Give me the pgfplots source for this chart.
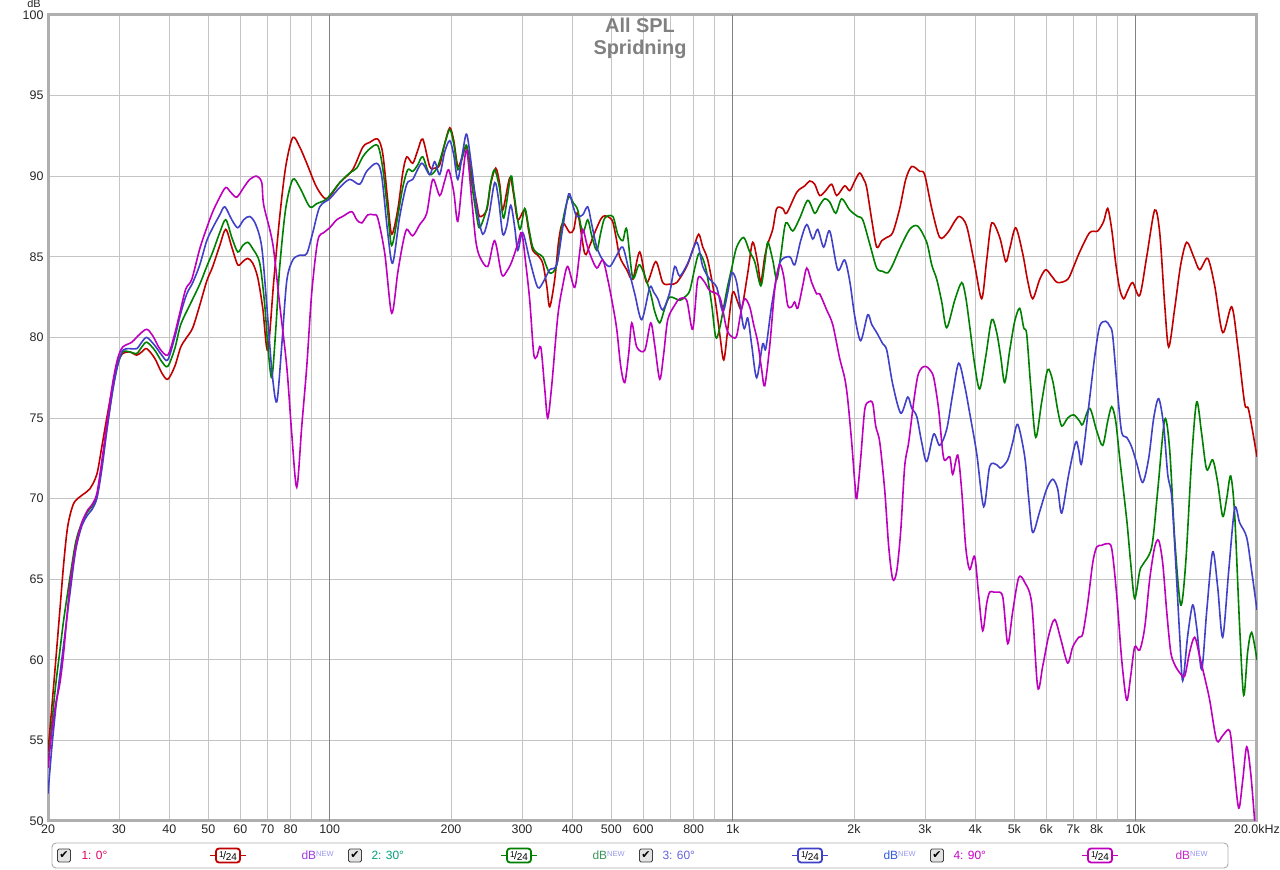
\documentclass[border=0pt]{standalone}
\usepackage{pgfplots}
\pgfplotsset{compat=1.18}
\usepackage{pgfplotstable}
\usepackage{fontspec}
\setmainfont{Liberation Sans}
\newfontfamily\dejavu{DejaVu Sans}
\definecolor{cRed}{RGB}{192,0,0}
\definecolor{cGreen}{RGB}{0,128,0}
\definecolor{cBlue}{RGB}{64,64,200}
\definecolor{cMag}{RGB}{190,0,190}
\definecolor{gridc}{RGB}{196,196,196}
\definecolor{decc}{RGB}{130,130,130}
\definecolor{titlec}{RGB}{128,128,128}
\definecolor{frame}{RGB}{175,175,175}
\definecolor{lRed}{RGB}{220,0,100}
\definecolor{lGreen}{RGB}{0,160,120}
\definecolor{lBlue}{RGB}{100,100,220}
\definecolor{lMag}{RGB}{200,0,200}
\definecolor{nNew}{RGB}{150,150,240}
\definecolor{dB1}{RGB}{160,60,220}
\definecolor{dB2}{RGB}{60,150,90}
\definecolor{dB3}{RGB}{50,90,220}
\definecolor{dB4}{RGB}{200,40,200}

\pgfplotstableread{
f db
20 54.3
20.43 57.0
20.91 60.0
21.39 63.0
21.88 66.0
22.39 68.3
23.16 69.7
24.26 70.2
25.39 70.6
26.43 71.5
27.19 73.2
27.98 75.0
28.95 77.0
29.79 78.4
30.65 79.0
31.90 79.1
33.20 78.9
34.17 79.1
35.16 79.3
36.81 78.7
38.31 77.8
39.64 77.4
41.26 78.2
42.70 79.4
44.19 80.0
45.73 80.6
47.60 82.0
49.54 83.5
51.27 84.4
53.36 85.7
55.22 86.7
57.15 85.6
59.14 84.5
60.86 84.7
62.62 84.9
64.44 84.6
66.30 83.7
68.22 81.8
70.20 79.2
72.65 83.5
75.18 87.5
77.80 90.6
80.98 92.4
84.28 91.8
87.72 90.8
92.88 89.3
98.35 88.6
105.9 89.6
114.0 90.4
120.8 91.8
125.7 92.1
131.6 92.3
135.4 91.4
139.3 88.5
142.5 86.4
147.5 87.9
151.8 90.2
155.3 91.2
160.7 90.8
165.4 91.6
170.2 92.3
177.1 90.6
182.2 90.5
187.5 90.7
192.9 92.0
198.6 93.0
203.2 92.2
207.9 90.6
212.6 91.1
218.8 91.8
225.2 90.0
231.7 88.3
235.7 87.5
245.3 87.9
250.9 89.5
258.2 90.5
264.2 89.5
268.8 87.9
279.8 89.9
286.3 88.8
292.9 87.3
304.8 87.9
311.8 86.6
319.0 85.4
328.3 85.1
337.8 84.6
345.6 83.2
351.6 81.9
361.8 83.6
370.1 86.0
378.7 87.1
394.2 86.5
403.3 86.7
412.6 87.7
429.4 85.2
441.9 85.7
454.7 86.5
476.0 87.5
501.1 87.3
512.7 86.3
524.5 85.0
545.9 84.2
565.0 83.6
588.0 85.3
612.0 83.4
644.3 84.7
670.6 83.4
698.0 83.3
726.5 83.4
769.2 84.4
800.6 85.6
823.7 86.4
842.8 85.6
867.3 84.8
902.6 82.5
928.8 80.2
950.3 78.6
972.3 80.5
1000 82.8
1029 82.2
1053 81.8
1090 84.0
1121 85.9
1154 84.6
1174 83.4
1201 85.0
1222 85.8
1257 86.7
1286 88.0
1331 88.0
1361 87.7
1442 89.0
1510 89.4
1553 89.7
1598 89.5
1644 88.8
1701 89.1
1761 89.5
1812 88.8
1896 89.4
1952 89.1
2009 89.7
2066 90.2
2114 89.8
2150 89.3
2213 87.3
2277 85.6
2344 86.0
2412 86.2
2495 86.5
2597 88.0
2688 89.8
2782 90.6
2911 90.3
2995 90.1
3118 88.0
3264 86.2
3417 86.5
3556 87.2
3659 87.5
3808 86.9
3986 84.5
4149 82.4
4269 84.8
4393 87.1
4599 86.2
4760 84.7
4869 85.5
5039 86.8
5244 85.2
5396 83.5
5552 82.4
5779 83.6
5981 84.2
6189 83.8
6405 83.4
6782 83.6
7018 84.4
7263 85.3
7690 86.5
8050 86.6
8330 87.2
8523 88.0
8720 86.7
8922 84.6
9128 83.0
9339 82.4
9555 82.9
9831 83.4
10233 82.6
10650 85.0
11149 87.9
11472 86.5
11805 82.0
12077 79.4
12498 81.8
12933 84.5
13385 85.9
13931 85.0
14417 84.2
15092 84.9
15707 83.2
16442 80.3
17309 81.9
17913 79.5
18643 75.9
19073 75.5
20000 72.6
}\tRed

\pgfplotstableread{
f db
20 53.5
20.43 56.0
20.91 58.5
21.39 60.5
21.88 62.5
22.64 65.0
23.43 67.3
24.26 68.5
25.10 69.2
25.68 69.5
26.43 70.1
27.19 72.0
27.98 74.3
28.95 76.8
29.79 78.3
30.65 79.1
31.90 79.1
33.20 79.0
34.17 79.4
35.16 79.7
36.81 79.2
38.31 78.5
39.64 78.2
41.26 79.3
42.70 80.8
44.95 82.0
47.60 83.3
49.54 84.4
51.27 85.3
53.36 86.5
55.22 87.3
57.15 86.2
59.14 85.3
60.86 85.7
62.62 85.9
64.44 85.5
67.06 84.6
69.0 82.0
70.20 79.5
71.83 77.5
73.49 80.5
75.18 84.4
77.80 88.0
80.98 89.8
84.28 89.3
89.24 88.1
92.88 88.3
98.35 88.6
105.9 89.6
112.1 90.2
116.7 90.5
120.8 91.2
125.7 91.7
131.6 91.9
135.4 90.5
139.3 87.8
142.5 85.7
147.5 87.5
151.8 89.3
156.2 90.4
160.7 90.3
165.4 90.7
170.2 91.2
177.1 90.1
185.4 90.6
192.9 92.0
198.6 92.9
203.2 92.0
207.9 90.4
212.6 91.0
218.8 91.9
225.2 89.5
231.7 87.5
235.7 86.8
245.3 88.0
250.9 89.6
256.7 90.4
264.2 89.2
270.3 87.4
281.4 90.0
286.3 89.0
296.2 86.7
304.8 88.0
311.8 86.8
319.0 85.6
328.3 85.2
337.8 85.0
351.6 84.0
365.9 84.5
378.7 87.2
391.9 88.7
403.3 88.3
412.6 87.9
424.5 86.5
436.8 87.3
447.0 86.3
459.9 85.4
470.6 86.5
481.5 87.4
504.0 87.5
518.6 86.4
533.6 86.0
545.9 86.7
565.0 83.7
588.0 84.5
622.6 82.9
640.7 81.6
659.2 80.9
678.3 81.8
698.0 82.5
739.0 82.3
760.4 82.5
782.5 82.9
805.2 84.3
823.7 85.2
842.8 84.9
862.3 84.0
887.3 82.0
907.8 80.0
928.8 80.6
966.7 82.9
994.7 84.3
1023 85.6
1065 86.2
1102 85.3
1134 84.7
1174 83.2
1201 84.6
1222 85.9
1257 84.8
1286 83.6
1315 85.0
1354 87.1
1409 86.6
1467 87.4
1536 88.5
1598 87.7
1644 88.2
1692 88.6
1741 88.4
1802 87.7
1864 88.6
1952 87.9
2043 87.5
2102 87.3
2188 85.8
2277 84.3
2357 84.1
2425 84.0
2495 84.5
2597 85.5
2750 86.7
2879 86.9
3030 85.9
3118 84.5
3209 83.6
3302 82.2
3397 80.6
3556 82.3
3701 83.4
3787 82.5
3874 80.7
3986 78.3
4102 76.8
4245 78.8
4393 81.1
4520 80.3
4625 78.8
4732 77.2
4869 79.2
5010 81.0
5155 81.8
5274 80.6
5365 80.2
5489 77.0
5649 73.8
5845 76.0
6049 78.0
6225 77.3
6405 75.5
6554 74.5
6782 75.0
7018 75.2
7263 74.8
7389 74.6
7690 75.6
8004 74.2
8283 73.3
8523 74.8
8720 75.7
8922 74.8
9128 72.5
9500 68.7
9719 66.0
9944 63.8
10233 65.5
10410 65.9
10960 67.0
11342 70.5
11805 74.9
12146 73.0
12498 67.5
12933 63.4
13309 66.0
13773 72.5
14172 76.0
14583 74.0
15005 71.8
15528 72.4
15978 71.0
16442 68.9
16821 70.0
17210 71.4
17608 69.0
18118 62.0
18537 57.8
18966 60.5
19404 61.7
20000 60.0
}\tGreen

\pgfplotstableread{
f db
20 51.7
20.43 54.5
20.91 57.0
21.39 59.0
21.88 61.0
22.64 64.0
23.43 66.8
24.26 68.3
25.10 69.0
25.68 69.3
26.43 70.0
27.19 71.8
27.98 74.2
28.95 76.7
29.79 78.3
30.65 79.2
31.90 79.3
33.20 79.3
34.17 79.7
35.16 80.0
36.81 79.5
38.31 78.9
39.64 78.6
41.26 80.0
42.70 81.5
44.19 82.7
45.73 83.4
47.60 84.5
49.54 86.0
51.27 86.8
53.36 87.6
54.91 88.1
57.15 87.3
59.14 86.8
61.20 87.3
63.34 87.5
65.55 87.0
67.83 85.6
69.80 82.0
71.83 78.0
73.91 76.0
76.04 79.5
78.25 83.5
80.98 84.8
84.28 85.1
87.72 85.2
90.78 86.5
94.49 88.1
100 88.6
105.9 89.3
112.1 89.8
118.7 89.5
123.5 90.3
130.8 90.8
134.6 90.0
139.3 86.5
143.3 84.6
149.2 87.5
155.3 89.5
160.7 89.8
169.2 90.8
177.1 90.1
182.2 90.9
187.5 90.1
192.9 91.5
198.6 92.2
203.2 91.3
207.9 89.8
213.8 91.5
218.8 92.6
225.2 90.5
231.7 88.0
239.8 86.4
248.1 87.5
256.7 89.6
262.6 88.5
268.8 86.4
275.0 86.9
281.4 88.2
287.9 86.8
292.9 85.4
301.3 86.5
313.6 84.8
328.3 83.1
339.8 83.5
351.6 84.2
365.9 84.5
378.7 86.8
391.9 88.9
401.0 88.2
410.3 87.5
424.5 87.6
436.8 88.1
447.0 87.0
459.9 85.6
476.0 84.8
495.4 84.4
515.6 85.1
533.6 85.6
552.1 84.2
571.5 82.7
594.8 81.1
622.6 83.1
637.0 82.8
651.7 82.4
670.6 81.7
698.0 82.8
718.2 84.4
739.0 83.8
773.6 84.6
814.4 85.9
842.8 84.4
877.2 83.6
913.0 83.1
944.9 81.6
972.3 82.8
994.7 84.0
1023 83.4
1065 80.6
1090 81.2
1115 79.5
1147 77.5
1187 79.6
1208 79.3
1250 82.0
1308 84.6
1385 85.0
1425 84.5
1475 86.0
1527 87.0
1580 86.1
1626 86.7
1682 85.6
1741 86.6
1822 84.2
1896 84.8
1952 83.5
2009 81.3
2078 79.8
2163 81.4
2213 80.8
2277 80.3
2357 79.6
2412 79.2
2495 77.1
2612 75.3
2719 76.3
2782 75.6
2862 75.1
2944 73.5
3030 72.3
3154 74.0
3264 73.3
3397 74.3
3516 76.5
3638 78.4
3765 77.0
3874 75.3
4032 72.8
4197 69.5
4343 72.0
4520 72.1
4625 71.9
4814 72.4
4953 73.5
5097 74.6
5305 72.6
5427 70.0
5552 67.9
5779 69.2
6015 70.6
6225 71.2
6405 70.6
6554 69.1
6820 71.5
7099 73.5
7222 73.0
7347 72.2
7646 75.7
7913 78.8
8142 80.7
8426 81.0
8621 80.7
8770 80.1
9024 76.5
9233 74.1
9500 73.8
9775 73.2
10058 72.2
10410 71.0
10772 72.5
11085 75.0
11406 76.2
11737 74.5
12009 71.5
12286 70.1
12570 66.0
12860 61.5
13082 58.7
13462 61.5
13851 63.4
14172 62.0
14583 59.4
15005 63.0
15528 66.7
15978 64.5
16442 61.4
17014 65.5
17608 69.4
18118 68.5
18857 67.6
19404 65.5
20000 63.1
}\tBlue

\pgfplotstableread{
f db
20 53.3
20.43 55.5
20.91 57.3
21.39 58.5
21.88 60.5
22.64 64.5
23.43 67.0
24.26 68.5
25.10 69.3
25.68 69.6
26.43 70.3
27.19 72.3
27.98 74.6
28.95 77.2
29.79 78.7
30.65 79.4
32.27 79.7
33.78 80.2
35.16 80.5
36.39 80.1
37.87 79.3
39.64 78.9
41.03 80.0
42.46 81.5
43.94 83.0
45.47 83.6
47.60 85.5
49.54 86.8
51.27 87.8
53.36 88.7
55.22 89.3
56.82 89.0
58.80 88.7
61.20 89.3
63.34 89.8
65.92 90.0
67.83 89.6
68.61 88.2
72.24 85.8
75.18 82.0
78.25 78.2
80.52 74.0
82.85 70.7
85.25 74.5
87.72 78.2
90.27 82.8
93.42 86.0
96.67 86.5
100 86.8
104.1 87.3
107.7 87.5
113.4 87.8
116.7 87.3
120.1 87.1
124.3 87.6
128.6 87.6
131.6 87.4
137.0 85.2
142.5 81.5
147.5 84.0
151.8 85.8
155.3 86.7
160.7 86.3
167.3 87.0
174.1 87.7
180.2 89.8
187.5 88.8
192.9 89.7
197.4 90.4
203.2 89.0
207.9 87.2
213.8 90.0
218.8 91.6
225.2 88.5
230.4 86.0
235.7 85.0
246.7 84.4
256.7 86.0
267.2 83.9
275.0 84.1
283.0 84.7
292.9 85.8
299.6 86.5
306.5 84.6
313.6 82.3
320.8 79.0
326.4 78.8
334.0 79.4
341.7 76.8
347.6 75.0
355.6 77.0
368.1 81.3
378.7 83.2
389.7 84.4
405.6 83.1
417.3 85.3
424.5 86.7
434.3 85.8
441.9 85.2
459.9 84.3
476.0 84.8
489.8 83.6
504.0 82.0
515.6 80.5
527.5 78.2
539.7 77.2
552.1 79.0
561.8 80.9
578.1 79.4
605.1 79.2
626.1 80.9
640.7 79.5
659.2 77.4
674.4 79.0
690.1 81.1
718.2 82.0
739.0 82.4
769.2 82.3
796.0 80.5
819.1 83.6
847.6 83.5
877.2 82.9
928.8 82.5
966.7 80.5
1000 80.0
1023 80.1
1047 81.5
1071 82.4
1102 81.9
1127 80.8
1154 79.7
1180 78.0
1201 77.0
1236 79.5
1272 83.0
1308 84.5
1338 83.8
1369 82.0
1401 81.9
1425 82.2
1450 81.8
1492 83.2
1527 84.3
1571 83.4
1616 82.7
1644 82.7
1711 81.7
1771 80.8
1843 78.7
1896 77.5
1929 76.2
1974 73.5
2009 71.0
2032 70.0
2078 72.5
2126 75.5
2175 76.0
2226 75.9
2264 74.5
2317 73.5
2384 70.5
2439 67.0
2495 65.0
2553 65.5
2612 68.0
2672 72.0
2734 73.5
2813 76.0
2879 77.6
2944 78.1
3013 78.2
3083 78.0
3154 77.5
3245 75.5
3339 72.5
3456 72.6
3516 71.5
3618 72.7
3701 70.5
3787 67.0
3874 65.6
3986 66.4
4078 64.0
4173 61.8
4269 63.5
4343 64.2
4443 64.2
4520 64.2
4679 63.9
4814 61.0
4953 63.0
5126 65.1
5305 64.8
5521 63.5
5713 58.3
5879 59.6
6084 61.5
6296 62.5
6516 61.3
6782 59.8
6979 60.8
7222 61.4
7389 61.6
7603 63.5
7823 66.0
8004 67.0
8236 67.1
8474 67.2
8720 66.9
8973 64.0
9233 60.0
9500 57.5
9719 59.0
9944 60.8
10233 60.6
10530 62.0
10835 65.0
11149 67.0
11406 67.4
11670 66.0
11940 63.0
12215 60.5
12498 59.7
12860 59.2
13233 59.0
13616 60.5
14011 61.4
14417 60.2
14835 58.9
15264 57.5
15887 55.0
16442 55.3
17112 55.6
17507 53.5
18014 50.8
18431 52.5
18857 54.6
19292 53.0
19739 50.0
}\tMag

\newcommand{\onefrac}{\raisebox{2.2bp}{\fontsize{8.5}{9}\selectfont 1}\kern-0.6bp{\fontsize{11}{11}\selectfont/}\kern-0.4bp\raisebox{-1.6bp}{\fontsize{10}{10}\selectfont 24}}
\newcommand{\dbnew}[1]{\textcolor{#1}{dB}\raisebox{3.8bp}{\fontsize{7.5}{8}\selectfont\textcolor{nNew}{NEW}}}

\begin{document}
\begin{tikzpicture}[x=1bp,y=1bp]
\path[use as bounding box] (0,0) rectangle (1280,870);
\begin{axis}[
  at={(48bp,49bp)}, anchor=south west,
  scale only axis, width=1209bp, height=806bp,
  xmode=log, xmin=20, xmax=20000, ymin=50, ymax=100,
  xtick={20,30,40,50,60,70,80,100,200,300,400,500,600,800,1000,2000,3000,4000,5000,6000,7000,8000,10000,20000},
  xticklabels={20,30,40,50,60,70,80,100,200,300,400,500,600,800,1k,2k,3k,4k,5k,6k,7k,8k,10k,20.0kHz},
  minor xtick={90,700,900,9000},
  ytick={50,55,60,65,70,75,80,85,90,95,100},
  xmajorgrids, xminorgrids, ymajorgrids,
  grid style={gridc, line width=0.9bp},
  minor grid style={gridc, line width=0.9bp},
  extra x ticks={100,1000,10000},
  extra x tick labels={,,},
  extra x tick style={grid style={decc, line width=1bp}},
  major tick length=0pt, minor tick length=0pt,
  axis line style={draw=frame, line width=3bp},
  tick label style={font=\fontsize{12.5}{14}\selectfont, text=black!85},
  yticklabel style={xshift=-1bp},
  /pgf/number format/assume math mode=true,
  no marks,
  every axis plot/.append style={line width=1.6bp, smooth, tension=0.5},
]
\addplot[cRed] table[x=f,y=db]{\tRed};
\addplot[cGreen] table[x=f,y=db]{\tGreen};
\addplot[cBlue] table[x=f,y=db]{\tBlue};
\addplot[cMag] table[x=f,y=db]{\tMag};
\end{axis}
% titles
\node[anchor=base, text=titlec, font=\bfseries\fontsize{20}{22}\selectfont] at (640,837) {All SPL};
\node[anchor=base, text=titlec, font=\bfseries\fontsize{20}{22}\selectfont] at (640,815) {Spridning};
\node[anchor=base, font=\fontsize{11}{12}\selectfont, text=black!85] at (34,862.5) {dB};
% legend frame
\draw[rounded corners=4, draw=gray!65, line width=0.9] (52,2) rectangle (1228,27);
% entries
\foreach \cb/\lx/\lab/\lc/\bx/\sc/\dx/\dc in {
  64/78/{1: 0°}/lRed/228/cRed/298/dB1,
  355/368/{2: 30°}/lGreen/519/cGreen/589/dB2,
  646/659/{3: 60°}/lBlue/810/cBlue/880/dB3,
  937/950/{4: 90°}/lMag/1100/cMag/1172/dB4}{
  \filldraw[fill=gray!22, draw=gray!50!black, line width=0.8, rounded corners=1.5] (\cb-6.5,8) rectangle (\cb+6.5,21);
  \node[font=\dejavu\fontsize{11}{11}\selectfont] at (\cb,14.5) {✔};
  \node[anchor=base west, text=\lc, font=\fontsize{12}{13}\selectfont] at (\lx,10) {\lab};
  \draw[\sc, line width=1.6] (\bx-18,14.5) -- (\bx+18,14.5);
  \filldraw[fill=white, draw=\sc, line width=1.8, rounded corners=3] (\bx-12,7.5) rectangle (\bx+12,21.5);
  \node[font=\fontsize{11}{11}\selectfont] at (\bx,14) {\onefrac};
  \node[anchor=base west, font=\fontsize{12}{13}\selectfont] at (\dx,10) {\dbnew{\dc}};
}
\end{tikzpicture}
\end{document}
